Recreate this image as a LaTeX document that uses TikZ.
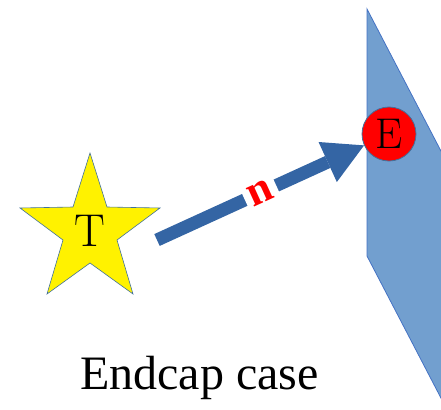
\documentclass[tikz,border=0pt]{standalone}
\usepackage{fontspec}
\newfontfamily\capfont{Liberation Serif}
\usetikzlibrary{arrows.meta}
\definecolor{planeblue}{RGB}{114,159,207}
\definecolor{planeedge}{RGB}{68,114,196}
\definecolor{arrowblue}{RGB}{52,101,164}
\definecolor{shapeedge}{RGB}{65,113,156}
\tikzset{
  plane/.style={fill=planeblue, draw=planeedge, line width=0.8pt},
  starshape/.style={fill=yellow, draw=shapeedge, line width=0.6pt},
  bigletter/.style={font=\fontsize{46}{46}\selectfont, inner sep=0pt},
  endpoint/.style={circle, fill=red, draw=shapeedge, line width=0.8pt, minimum size=54pt, inner sep=0pt, font=\fontsize{43}{43}\selectfont},
  normalarrow/.style={arrowblue, line width=13pt, -{Triangle[length=40pt,width=44pt,line width=0pt]}},
  normallabel/.style={sloped, fill=white, text=red, font=\capfont\bfseries\fontsize{44}{44}\selectfont, inner xsep=5pt, inner ysep=1pt},
  caption/.style={font=\capfont\fontsize{48}{48}\selectfont, anchor=base, inner sep=0pt}
}
\begin{document}
\begin{tikzpicture}[x=1pt,y=-1pt]
\useasboundingbox (0,0) rectangle (441,409);
\begin{scope}
  \clip (0,0) rectangle (441,409);
  \path[plane] (367,9) -- (480,226) -- (480,473) -- (367,256) -- cycle;
\end{scope}
\path[starshape] (90,153) -- (107,207) -- (160,208) -- (117,240) -- (133,294) -- (90,263) -- (47,294) -- (63,240) -- (20,208) -- (73,207) -- cycle;
\node[bigletter] (T) at (90,231) {T};
\node[endpoint] (E) at (389,134) {E};
\coordinate (tail) at (157,240);
\draw[normalarrow] (tail) -- (E) node[normallabel, pos=0.5] (n) {n};
\node[caption] (cap) at (199.5,389) {Endcap case};
\end{tikzpicture}
\end{document}
